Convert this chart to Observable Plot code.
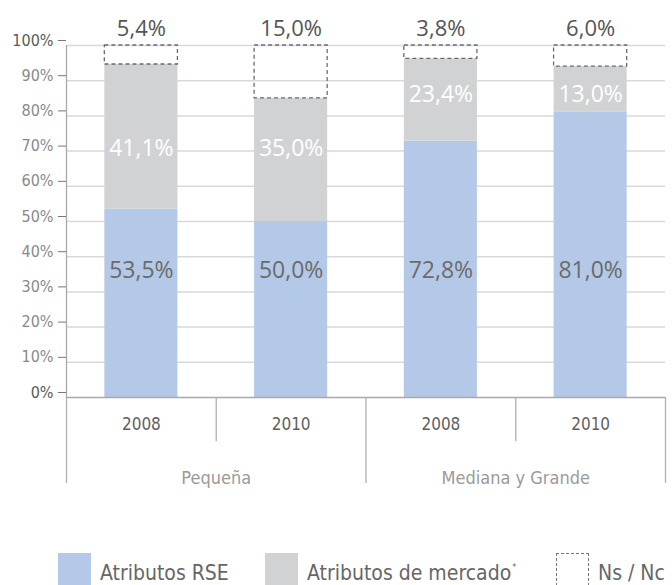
<!DOCTYPE html>
<html>
<head>
<meta charset="utf-8">
<script src="https://cdn.jsdelivr.net/npm/d3@7"></script>
<script src="https://cdn.jsdelivr.net/npm/@observablehq/plot@0.6"></script>
<style>
  html, body { margin: 0; padding: 0; background: #fff; overflow: hidden; }
  #chart svg { display: block; }
  #legend { position: relative; width: 672px; height: 85px;
    font-family: 'DejaVu Sans Condensed', sans-serif;
    font-size: 21px; color: #666; }
  #legend .sw { position: absolute; width: 33px; height: 33px; box-sizing: border-box; }
  #legend .lb { position: absolute; line-height: 21px; white-space: nowrap; }
  #legend .ast { font-size: 9px; position: relative; top: -10px; margin-left: 1px; }
</style>
</head>
<body>
<div id="chart"></div>
<div id="legend"></div>
<script>
// ---- data ----
const grupos = ["Pequeña", "Pequeña", "Mediana y Grande", "Mediana y Grande"];
const anios = ["2008", "2010", "2008", "2010"];
const atributosRSE = [53.5, 50.0, 72.8, 81.0];
const atributosMercado = [41.1, 35.0, 23.4, 13.0];
const nsNc = [5.4, 15.0, 3.8, 6.0];
const yTicks = [0, 10, 20, 30, 40, 50, 60, 70, 80, 90, 100];
const serieNombres = ["Atributos RSE", "Atributos de mercado", "Ns / Nc"];
const serieColores = ["#b4c9e7", "#d1d2d4", "none"];

const fmt = v => v.toFixed(1).replace(".", ",") + "%";

const rows = anios.map((a, i) => {
  const r = atributosRSE[i], m = atributosMercado[i], n = nsNc[i];
  return { i, grupo: grupos[i], anio: a, r, m, n, b0: 0, b1: r, g0: r, g1: r + m, d0: r + m, d1: r + m + n };
});
// gray labels sit at the group's mean segment midpoint
const grupoLista = Array.from(new Set(grupos));
const grupoMid = new Map(grupoLista.map(g => {
  const rs = rows.filter(d => d.grupo === g);
  return [g, d3.mean(rs, d => (d.g0 + d.g1) / 2)];
}));
const grupoRows = grupoLista.map(g => {
  const idx = rows.filter(d => d.grupo === g).map(d => d.i);
  return { grupo: g, c: (d3.min(idx) + d3.max(idx) + 1) / 2 };
});

const HW = 0.244;        // half bar width in band units
const BLUE_LABEL = 36;   // label level inside blue bars
const dividers = d3.range(0, anios.length + 1);
const FONT = "'DejaVu Sans Condensed', sans-serif";

const chart = Plot.plot({
  width: 672,
  height: 500,
  marginTop: 45,
  marginBottom: 103,
  marginLeft: 66,
  marginRight: 7,
  style: { fontFamily: FONT, background: "#fff" },
  x: { type: "linear", domain: [0, anios.length], axis: null },
  y: { domain: [0, 100], axis: null },
  marks: [
    Plot.gridY(yTicks.filter(t => t > 0), { stroke: "#d9d9d9", strokeOpacity: 1, strokeWidth: 1.5 }),
    Plot.rect(rows, { x1: d => d.i + 0.5 - HW, x2: d => d.i + 0.5 + HW, y1: "b0", y2: "b1", fill: serieColores[0] }),
    Plot.rect(rows, { x1: d => d.i + 0.5 - HW, x2: d => d.i + 0.5 + HW, y1: "g0", y2: "g1", fill: serieColores[1] }),
    Plot.rect(rows, { x1: d => d.i + 0.5 - HW, x2: d => d.i + 0.5 + HW, y1: "d0", y2: "d1", fill: "none",
      stroke: "#6b6b6b", strokeWidth: 1.3, strokeDasharray: "4,3" }),
    Plot.ruleY([0], { stroke: "#a9a9a9", strokeWidth: 1.5 }),
    Plot.ruleX([0], { x: d => d, y1: 0, y2: 100, stroke: "#a9a9a9", strokeWidth: 1.3 }),
    Plot.ruleX(dividers, { x: d => d, y1: 0, y2: d => (d % 2 === 0 ? -24.4 : -12.6), stroke: "#b0b0b0", strokeWidth: 1.3 }),
    Plot.axisY(yTicks.filter(t => t > 0 && t < 100), { tickSize: 8, tickPadding: 5, tickFormat: d => d + "%",
      fontSize: 16, fill: "#8a8a8a", stroke: "#777", dy: -5 }),
    Plot.axisY([0, 100], { tickSize: 8, tickPadding: 5, tickFormat: d => d + "%",
      fontSize: 16, fill: "#5a5a5a", stroke: "#777", dy: -5 }),
    // value labels
    Plot.text(rows, { x: d => d.i + 0.5, y: d => d.d1, dy: -17, text: d => fmt(d.n),
      fontFamily: "'Open Sans', sans-serif", fontSize: 22, fill: "#555" }),
    Plot.text(rows, { x: d => d.i + 0.5, y: d => grupoMid.get(d.grupo), text: d => fmt(d.m),
      fontFamily: "'Open Sans', sans-serif", fontSize: 23, fill: "#fff" }),
    Plot.text(rows, { x: d => d.i + 0.5, y: () => BLUE_LABEL, text: d => fmt(d.r),
      fontFamily: "'Open Sans', sans-serif", fontSize: 23, fill: "#6b6b6b" }),
    // category labels
    Plot.text(rows, { x: d => d.i + 0.5, frameAnchor: "bottom", dy: 32, text: "anio", fontSize: 17, fill: "#5f5f5f" }),
    Plot.text(grupoRows, { x: "c", frameAnchor: "bottom", dy: 86, text: "grupo", fontSize: 18, fill: "#9a9a9a" })
  ]
});
document.getElementById("chart").appendChild(chart);

// ---- legend ----
const legend = d3.select("#legend");
const legX = [58, 265, 556];
serieNombres.forEach((name, k) => {
  const sw = legend.append("div").attr("class", "sw")
    .style("left", legX[k] + "px").style("top", "53px");
  if (serieColores[k] === "none") sw.style("border", "1.3px dashed #777");
  else sw.style("background", serieColores[k]);
  const lb = legend.append("div").attr("class", "lb")
    .style("left", (legX[k] + 42) + "px").style("top", "63px").text(name);
  if (k === 1) lb.append("span").attr("class", "ast").text("*");
});
</script>
</body>
</html>
